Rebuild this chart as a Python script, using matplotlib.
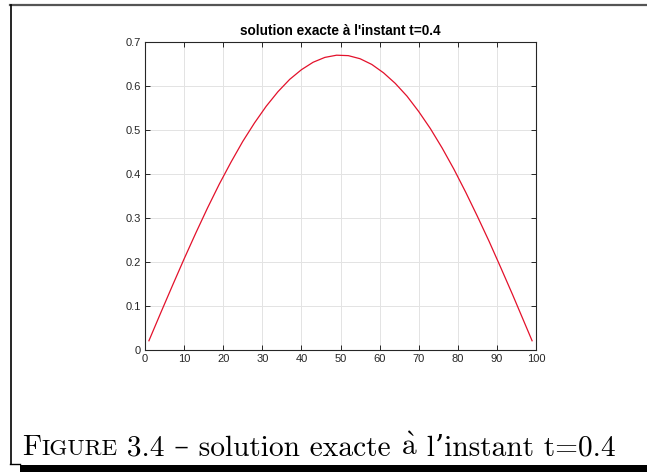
import matplotlib
matplotlib.use('Agg')
import matplotlib.pyplot as plt
from matplotlib.lines import Line2D
from matplotlib.patches import Rectangle

plt.rcParams['mathtext.fontset'] = 'cm'

# values
x = [1, 4, 7, 10, 13, 16, 19, 22, 25, 28, 31, 34, 37, 40, 43, 46, 49,
     52, 55, 58, 61, 64, 67, 70, 73, 76, 79, 82, 85, 88, 91, 94, 97, 99]
u = [0.021, 0.084, 0.146, 0.207, 0.266, 0.323, 0.377, 0.427, 0.474, 0.516,
     0.554, 0.587, 0.615, 0.637, 0.654, 0.665, 0.670,
     0.669, 0.662, 0.649, 0.630, 0.606, 0.577, 0.542, 0.503, 0.459,
     0.411, 0.359, 0.304, 0.247, 0.187, 0.126, 0.063, 0.021]

xticks = [0, 10, 20, 30, 40, 50, 60, 70, 80, 90, 100]
yticks = [0, 0.1, 0.2, 0.3, 0.4, 0.5, 0.6, 0.7]
ytick_labels = ['0', '0.1', '0.2', '0.3', '0.4', '0.5', '0.6', '0.7']

title = "solution exacte à l'instant t=0.4"
# caption pieces: (text, size); "Figure" in small caps, à through mathtext
caption_parts = [("F", 21.2), ("IGURE", 16.5), (" 3.4 – solution exacte ", 21.2),
                 (r"$\mathrm{\grave{a}}$", 21.2), (" l’instant t=0.4", 21.2)]

W, H = 647, 472
fig = plt.figure(figsize=(W / 100, H / 100), dpi=100)
fig.patch.set_facecolor('white')

ax = fig.add_axes([145 / W, 1 - 350 / H, (536 - 145) / W, (350 - 42) / H])
ax.plot(x, u, color='#e3112b', lw=0.9)
ax.set_xlim(0, 100)
ax.set_ylim(0, 0.7)
ax.set_xticks(xticks)
ax.set_yticks(yticks)
ax.set_yticklabels(ytick_labels)
ax.grid(True, color='#e3e3e3', lw=0.7)
ax.set_axisbelow(True)
ax.tick_params(direction='in', length=3.5, width=0.7, top=True, right=True,
               labelsize=8, colors='#262626', pad=3)
for s in ax.spines.values():
    s.set_color('#262626')
    s.set_linewidth(0.8)
ax.set_title(title, fontsize=9.8, fontweight='bold', family='Liberation Sans', pad=5)
for lab in ax.get_xticklabels() + ax.get_yticklabels():
    lab.set_family('Liberation Sans')

# frame around the figure, as in the document
fig.add_artist(Line2D([10 / W, 1], [1 - 5 / H, 1 - 5 / H], color='#555555', lw=1.6))
fig.add_artist(Line2D([10.5 / W, 10.5 / W], [1 - 5 / H, 1 - 464 / H], color='black', lw=1.2))
fig.add_artist(Line2D([10 / W, 20 / W], [1 - 464 / H, 1 - 464 / H], color='black', lw=1.0))
fig.add_artist(Rectangle((20 / W, 0), 1, 7.5 / H, transform=fig.transFigure,
                         color='black', lw=0))

# caption, laid out piece by piece
fig.canvas.draw()
renderer = fig.canvas.get_renderer()
xpos = 22
for txt, size in caption_parts:
    t = fig.text(xpos / W, 1 - 455 / H, txt, fontsize=size,
                 family=['cmr10', 'DejaVu Serif'], va='baseline', ha='left')
    bb = t.get_window_extent(renderer)
    xpos = bb.x1

fig.savefig('out.png', dpi=100)
